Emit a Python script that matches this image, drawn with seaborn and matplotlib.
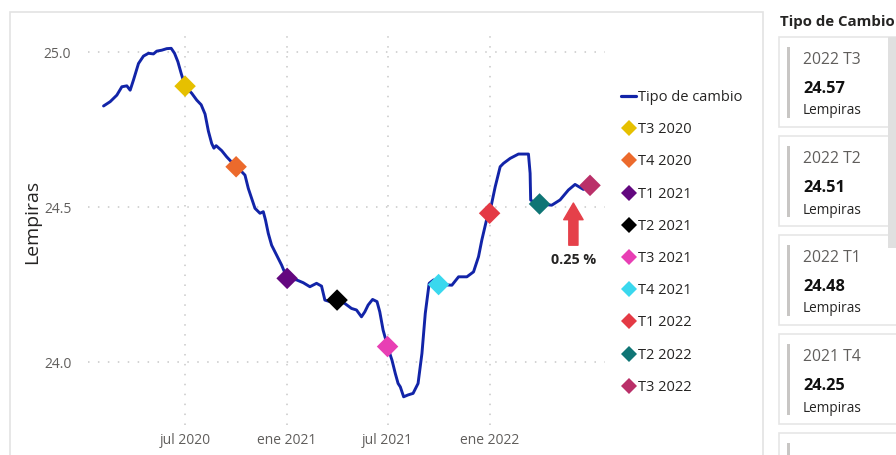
import matplotlib
matplotlib.use("Agg")
import matplotlib.pyplot as plt
from matplotlib.lines import Line2D
from matplotlib.patches import Rectangle
import pandas as pd
import seaborn as sns

# Daily exchange rate readings (Lempiras per USD)
fechas = [
    "2020-02-05", "2020-02-17", "2020-02-29", "2020-03-09", "2020-03-18", "2020-03-24",
    "2020-03-30", "2020-04-08", "2020-04-17", "2020-04-26", "2020-05-05", "2020-05-11",
    "2020-05-20", "2020-05-29", "2020-06-06", "2020-06-12", "2020-06-18", "2020-06-24",
    "2020-07-01", "2020-07-13", "2020-07-22", "2020-07-30", "2020-08-06", "2020-08-12",
    "2020-08-18", "2020-08-22", "2020-08-26", "2020-09-05", "2020-09-14", "2020-09-23",
    "2020-10-01", "2020-10-08", "2020-10-17", "2020-10-23", "2020-10-29", "2020-11-04",
    "2020-11-13", "2020-11-19", "2020-11-23", "2020-11-28", "2020-12-04", "2020-12-13",
    "2020-12-22", "2021-01-01", "2021-01-18", "2021-01-30", "2021-02-11", "2021-02-23",
    "2021-03-04", "2021-03-10", "2021-03-19", "2021-04-01", "2021-04-15", "2021-04-27",
    "2021-05-06", "2021-05-15", "2021-05-21", "2021-05-27", "2021-06-04", "2021-06-12",
    "2021-06-17", "2021-06-23", "2021-06-28", "2021-07-01", "2021-07-09", "2021-07-15",
    "2021-07-20", "2021-07-24", "2021-07-30", "2021-08-07", "2021-08-16", "2021-08-25",
    "2021-09-01", "2021-09-07", "2021-09-14", "2021-09-22", "2021-10-01", "2021-10-25",
    "2021-11-06", "2021-11-21", "2021-12-03", "2021-12-12", "2021-12-18", "2021-12-26",
    "2022-01-01", "2022-01-11", "2022-01-20", "2022-01-26", "2022-02-07", "2022-02-22",
    "2022-03-12", "2022-03-15", "2022-03-16", "2022-03-24", "2022-04-01", "2022-04-23",
    "2022-05-08", "2022-05-23", "2022-06-04", "2022-06-19", "2022-07-01",
]
tipo_cambio = [
    24.826, 24.840, 24.861, 24.888, 24.891, 24.877,
    24.910, 24.963, 24.987, 24.996, 24.994, 25.003,
    25.006, 25.011, 25.012, 24.996, 24.969, 24.931,
    24.890, 24.867, 24.845, 24.830, 24.800, 24.745,
    24.705, 24.690, 24.698, 24.682, 24.662, 24.645,
    24.630, 24.620, 24.603, 24.560, 24.528, 24.496,
    24.480, 24.485, 24.458, 24.415, 24.377, 24.345,
    24.313, 24.270, 24.265, 24.256, 24.243, 24.254,
    24.245, 24.200, 24.195, 24.200, 24.189, 24.173,
    24.168, 24.146, 24.162, 24.184, 24.202, 24.195,
    24.162, 24.103, 24.071, 24.050, 24.006, 23.963,
    23.931, 23.920, 23.888, 23.894, 23.899, 23.931,
    24.028, 24.157, 24.254, 24.265, 24.250, 24.248,
    24.275, 24.275, 24.291, 24.340, 24.394, 24.455,
    24.480, 24.565, 24.630, 24.641, 24.657, 24.671,
    24.671, 24.609, 24.523, 24.512, 24.510, 24.506,
    24.523, 24.555, 24.573, 24.557, 24.570,
]

# Quarter-start readings
trimestres = ["T3 2020", "T4 2020", "T1 2021", "T2 2021", "T3 2021",
              "T4 2021", "T1 2022", "T2 2022", "T3 2022"]
fechas_trim = ["2020-07-01", "2020-10-01", "2021-01-01", "2021-04-01", "2021-07-01",
               "2021-10-01", "2022-01-01", "2022-04-01", "2022-07-01"]
valores_trim = [24.89, 24.63, 24.27, 24.20, 24.05, 24.25, 24.48, 24.51, 24.57]
colores_trim = ["#E6C000", "#EC6A2C", "#63077F", "#000000", "#E83FB4",
                "#3AD8EE", "#E43A45", "#0F7575", "#BA3069"]

# Tick labels on the date axis
ticks_x = ["2020-07-01", "2021-01-01", "2021-07-01", "2022-01-01"]
ticks_x_labels = ["jul 2020", "ene 2021", "jul 2021", "ene 2022"]
ticks_y = [24.0, 24.5, 25.0]

# Change annotated since the previous quarter
variacion = "0.25 %"

# Summary cards (latest quarters first)
tarjetas_periodo = ["2022 T3", "2022 T2", "2022 T1", "2021 T4"]
tarjetas_valor = [24.57, 24.51, 24.48, 24.25]

W, H = 896, 455
sns.set_theme(style="white")
plt.rcParams["font.family"] = ["Open Sans", "DejaVu Sans"]


def fx(px):
    return px / W


def fy(py):
    return 1 - py / H


df = pd.DataFrame({"fecha": pd.to_datetime(fechas), "tipo": tipo_cambio})
dq = pd.DataFrame({"fecha": pd.to_datetime(fechas_trim), "tipo": valores_trim,
                   "trimestre": trimestres})

fig = plt.figure(figsize=(W / 100, H / 100), dpi=100)
fig.patch.set_facecolor("white")

ax = fig.add_axes([fx(88), fy(425), fx(605) - fx(88), fy(35) - fy(425)])
ax.set_facecolor("white")

line_color = "#1224A8"
sns.lineplot(data=df, x="fecha", y="tipo", color=line_color, linewidth=2.1,
             ax=ax, legend=False, zorder=3)
sns.scatterplot(data=dq, x="fecha", y="tipo", hue="trimestre",
                palette=dict(zip(trimestres, colores_trim)), marker="D", s=120,
                edgecolor="none", linewidth=0, ax=ax, legend=False, zorder=4)

ax.set_xlim(pd.Timestamp("2020-01-08"), pd.Timestamp("2022-07-28"))
ax.set_ylim(23.797, 25.055)
ax.set_xticks(pd.to_datetime(ticks_x))
ax.set_xticklabels(ticks_x_labels)
ax.set_yticks(ticks_y)
ax.set_yticklabels([f"{v:.1f}" for v in ticks_y])
ax.tick_params(axis="both", length=0, labelsize=10, labelcolor="#605E5C")
ax.tick_params(axis="x", pad=6)
ax.tick_params(axis="y", pad=12)
for s in ax.spines.values():
    s.set_visible(False)
ax.grid(True, color="#C8C8C8", linestyle=(0, (1, 5.5)), linewidth=1.1)
ax.set_xlabel("")
ax.set_ylabel("")
fig.text(fx(32), fy(222), "Lempiras", rotation=90, ha="center", va="center",
         fontsize=14, color="#252423")

# Up arrow with the percentage change
fecha_flecha = pd.Timestamp("2022-06-01")
ax.annotate("", xy=(fecha_flecha, 24.513), xytext=(fecha_flecha, 24.377),
            arrowprops=dict(arrowstyle="simple,head_length=0.6,head_width=0.7,tail_width=0.33",
                            mutation_scale=20, color="#E5404A", shrinkA=0, shrinkB=0),
            zorder=5)
ax.text(fecha_flecha, 24.33, variacion, ha="center", va="center", fontsize=10.3,
        fontweight="bold", color="#252423")

# Legend
handles = [Line2D([0], [0], color=line_color, linewidth=2.3)]
handles += [Line2D([0], [0], marker="D", linestyle="none", markersize=8,
                   markerfacecolor=c, markeredgewidth=0) for c in colores_trim]
labels = ["Tipo de cambio"] + trimestres
ax.legend(handles, labels, loc="upper left", bbox_to_anchor=(fx(621), fy(90)),
          bbox_transform=fig.transFigure, frameon=False, fontsize=10.5,
          handlelength=1.05, handletextpad=0.15, labelspacing=1.18,
          borderaxespad=0, borderpad=0, labelcolor="#252423")

# Visual border
fig.add_artist(Rectangle((fx(10), fy(470)), fx(763) - fx(10), fy(12) - fy(470),
                         transform=fig.transFigure, facecolor="none",
                         edgecolor="#E3E3E3", linewidth=1.2, zorder=0))

# Card panel
fig.text(fx(780), fy(22), "Tipo de Cambio", ha="left", va="center", fontsize=10.8,
         fontweight="bold", color="#252423")
for i in range(5):
    top = 37 + 99 * i
    fig.add_artist(Rectangle((fx(779), fy(top + 90)), fx(930) - fx(779), fy(top) - fy(top + 90),
                             transform=fig.transFigure, facecolor="white",
                             edgecolor="#E6E6E6", linewidth=1.2, zorder=1))
    fig.add_artist(Rectangle((fx(787), fy(top + 81)), fx(790) - fx(787), fy(top + 10) - fy(top + 81),
                             transform=fig.transFigure, facecolor="#C8C6C4",
                             edgecolor="none", zorder=2))
    if i < len(tarjetas_periodo):
        fig.text(fx(803), fy(top + 23), tarjetas_periodo[i], ha="left", va="center",
                 fontsize=11.3, color="#605E5C", zorder=3)
        fig.text(fx(803), fy(top + 52), f"{tarjetas_valor[i]:.2f}", ha="left", va="center",
                 fontsize=11.8, fontweight="bold", color="#111111", zorder=3)
        fig.text(fx(803), fy(top + 74), "Lempiras", ha="left", va="center",
                 fontsize=9.8, color="#252423", zorder=3)

# Scroll bar
fig.add_artist(Rectangle((fx(888), fy(248)), fx(896) - fx(888), fy(37) - fy(248),
                         transform=fig.transFigure, facecolor="#E0E0E0",
                         edgecolor="none", zorder=4))

fig.savefig("out.png", dpi=100, facecolor="white")
